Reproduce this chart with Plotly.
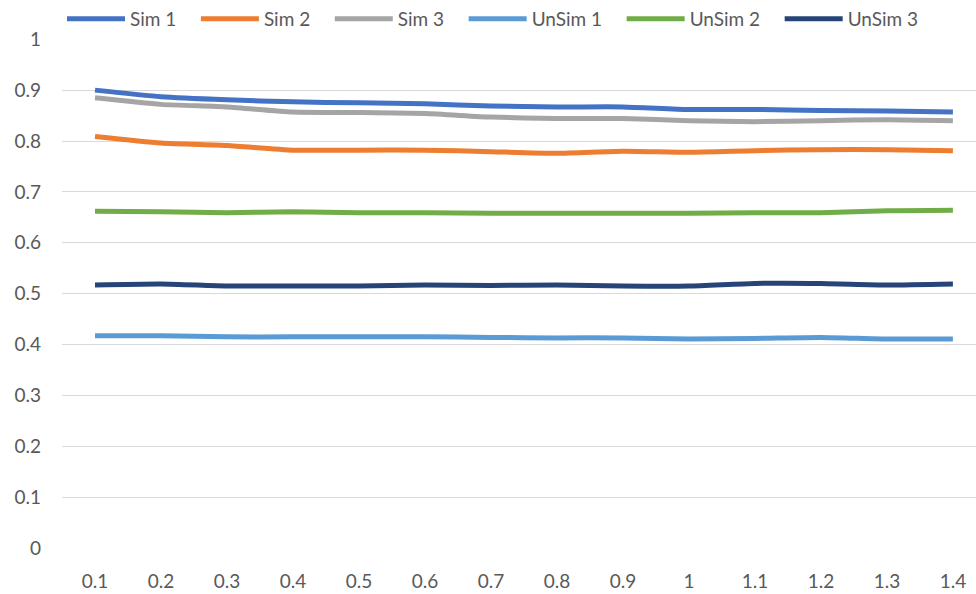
import plotly.graph_objects as go

categories = ["0.1", "0.2", "0.3", "0.4", "0.5", "0.6", "0.7",
              "0.8", "0.9", "1", "1.1", "1.2", "1.3", "1.4"]

sim_1 = [0.900, 0.887, 0.881, 0.877, 0.875, 0.873, 0.869,
         0.867, 0.867, 0.862, 0.862, 0.860, 0.859, 0.857]
sim_2 = [0.809, 0.796, 0.791, 0.782, 0.782, 0.782, 0.779,
         0.776, 0.780, 0.778, 0.781, 0.783, 0.783, 0.781]
sim_3 = [0.885, 0.872, 0.867, 0.857, 0.856, 0.854, 0.847,
         0.844, 0.844, 0.840, 0.838, 0.840, 0.842, 0.840]
unsim_1 = [0.417, 0.417, 0.415, 0.415, 0.415, 0.415, 0.414,
           0.413, 0.413, 0.411, 0.412, 0.414, 0.411, 0.411]
unsim_2 = [0.662, 0.661, 0.659, 0.661, 0.659, 0.659, 0.658,
           0.658, 0.658, 0.658, 0.659, 0.659, 0.663, 0.664]
unsim_3 = [0.517, 0.519, 0.515, 0.515, 0.515, 0.517, 0.516,
           0.517, 0.515, 0.515, 0.520, 0.520, 0.517, 0.519]

series = [
    ("Sim 1", sim_1, "#4472C4"),
    ("Sim 2", sim_2, "#ED7D31"),
    ("Sim 3", sim_3, "#A5A5A5"),
    ("UnSim 1", unsim_1, "#5B9BD5"),
    ("UnSim 2", unsim_2, "#70AD47"),
    ("UnSim 3", unsim_3, "#264478"),
]

y_ticks = [0, 0.1, 0.2, 0.3, 0.4, 0.5, 0.6, 0.7, 0.8, 0.9, 1]
y_tick_text = ["0", "0.1", "0.2", "0.3", "0.4", "0.5", "0.6",
               "0.7", "0.8", "0.9", "1"]

font_family = "Lato, 'Open Sans', sans-serif"
text_color = "#595959"
font_size = 19
legend_pad = "\u00a0\u00a0\u00a0"  # extra room after each legend label

fig = go.Figure()
for name, values, color in series:
    fig.add_trace(go.Scatter(
        x=list(range(len(categories))), y=values, name=name + legend_pad,
        mode="lines",
        line=dict(color=color, width=5, shape="spline", smoothing=0.6),
    ))

fig.update_layout(
    width=976, height=594,
    margin=dict(l=62, r=0, t=39, b=46, autoexpand=False),
    paper_bgcolor="white", plot_bgcolor="white",
    font=dict(family=font_family, size=font_size, color=text_color),
    showlegend=True,
    legend=dict(
        orientation="h", x=0.0, xanchor="left",
        yref="container", y=1.0, yanchor="top",
        font=dict(family=font_family, size=font_size, color=text_color),
        itemwidth=58, tracegroupgap=0, bgcolor="rgba(0,0,0,0)",
    ),
)

fig.update_xaxes(
    range=[-0.5, 13.35],
    tickmode="array", tickvals=list(range(len(categories))), ticktext=categories,
    showgrid=False, zeroline=False, showline=False, ticks="",
    ticklabelstandoff=20,
    tickfont=dict(family=font_family, size=font_size, color=text_color),
)
fig.update_yaxes(
    range=[0, 1.0005],
    tickmode="array", tickvals=y_ticks, ticktext=y_tick_text,
    showgrid=True, gridcolor="#D9D9D9", gridwidth=1.3,
    zeroline=False, showline=False, ticks="",
    ticklabelstandoff=20,
    tickfont=dict(family=font_family, size=font_size, color=text_color),
)

fig.write_html("out.html")
